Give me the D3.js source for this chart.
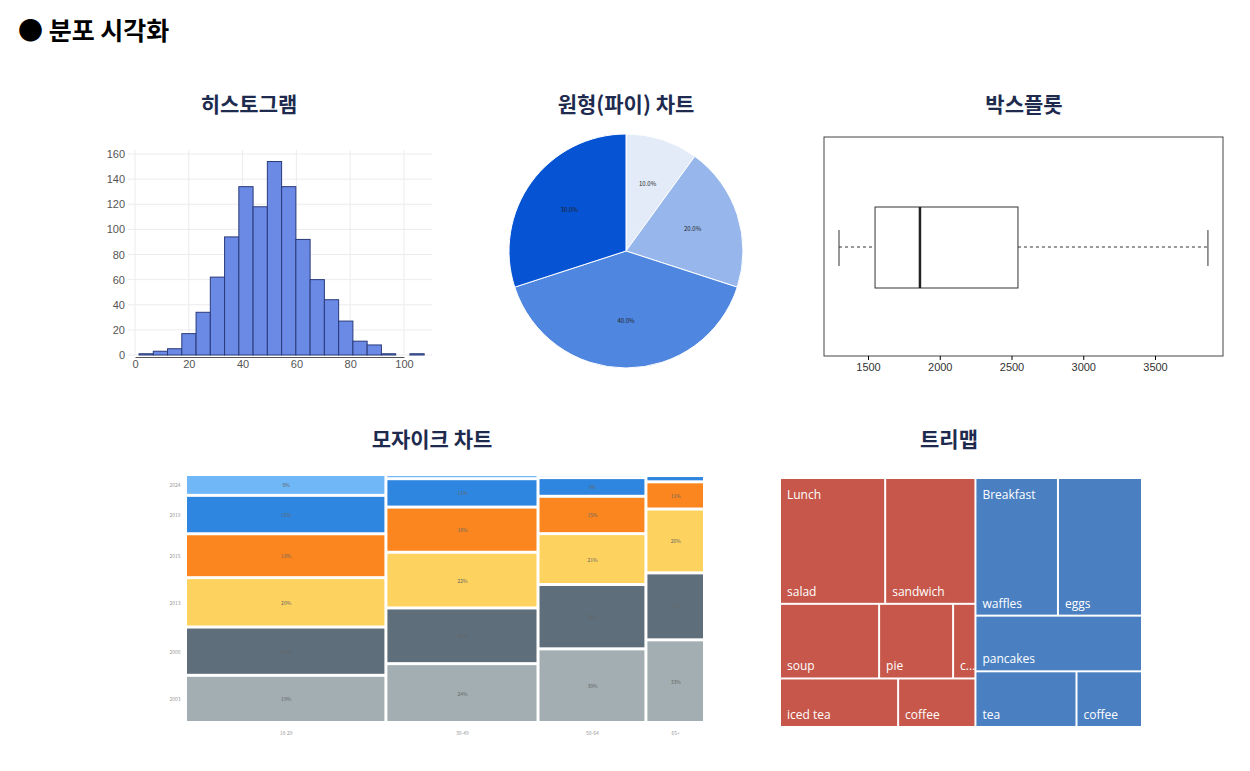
<!DOCTYPE html>
<html><head><meta charset="utf-8">
<script src="https://cdn.jsdelivr.net/npm/d3@7"></script>
<style>body{margin:0;background:#fff;font-family:"Noto Sans CJK KR","Noto Sans",sans-serif}</style>
</head><body>
<script>
// histogram
let histCounts = [1, 3, 5, 17, 34, 62, 94, 134, 118, 154, 134, 92, 60, 44, 27, 11, 8, 1, 0, 1]
let histStart = 1.5, histBin = 5.3
// pie
let pieLabels = ['10.0%', '20.0%', '40.0%', '30.0%']
let pieValues = [10, 20, 40, 30]
let pieColors = ['#e3ebf9', '#97b7ec', '#4f86e0', '#0653d3']
// box plot
let boxStats = { min: 1298, q1: 1549, median: 1862, q3: 2545, max: 3869 }
let boxTicks = [1500, 2000, 2500, 3000, 3500]
// mosaic
let mosaicCols = ['18-29', '30-49', '50-64', '65+']
let mosaicWidths = [195, 148, 105, 57]
let mosaicRows = ['2003', '2008', '2013', '2015', '2019', '2024']
let mosaicColors = ['#a2aeb1', '#5e6e7a', '#fdd25f', '#fb861f', '#2f86e0', '#6fb7f6']
let mosaicValues = [
  [43, 44, 45, 40, 35, 19],
  [56, 53, 53, 43, 27, 4],
  [71, 62, 49, 36, 18, 3],
  [79, 64, 61, 26, 6, 1]
]
// treemap: each group split into rows
let lunchRows = [['salad', 'sandwich'], ['soup', 'pie', 'cake'], ['iced tea', 'coffee']]
let lunchValues = [[127, 109], [71, 53, 16], [55, 36]]
let breakfastRows = [['waffles', 'eggs'], ['pancakes'], ['tea', 'coffee']]
let breakfastValues = [[109, 111], [89], [54, 35]]

let svg = d3.select('body').append('svg').attr('width', 1250).attr('height', 771)
let titleColor = '#1e2b4f'

svg.append('text').attr('x', 18).attr('y', 40).attr('font-size', 25).attr('font-weight', 'bold').text('● 분포 시각화')

let title = (x, y, t) => svg.append('text').attr('x', x).attr('y', y).attr('text-anchor', 'middle')
  .attr('font-size', 21).attr('font-weight', 'bold').attr('fill', titleColor).text(t)
title(249, 112, '히스토그램')
title(626, 112, '원형(파이) 차트')
title(1024, 112, '박스플롯')
title(432, 447, '모자이크 차트')
title(949, 447, '트리맵')

// histogram
let hx = d3.scaleLinear().domain([0, 100]).range([135, 404])
let hy = d3.scaleLinear().domain([0, 160]).range([355, 154])
let hg = svg.append('g')
hg.selectAll('.gx').data(d3.range(0, 120, 20)).join('line').attr('x1', d => hx(d)).attr('x2', d => hx(d))
  .attr('y1', 150).attr('y2', 355).attr('stroke', '#ececec')
hg.selectAll('.gy').data(d3.range(0, 180, 20)).join('line').attr('x1', 128).attr('x2', 432)
  .attr('y1', d => hy(d)).attr('y2', d => hy(d)).attr('stroke', '#ececec')
hg.selectAll('rect').data(histCounts).join('rect')
  .attr('x', (d, i) => hx(histStart + i * histBin)).attr('width', hx(histBin) - hx(0))
  .attr('y', d => hy(d)).attr('height', d => hy(0) - hy(d))
  .attr('fill', '#6b8ae6').attr('stroke', '#2a3a7a').attr('stroke-width', 1)
hg.append('g').attr('transform', 'translate(0,357)')
  .call(d3.axisBottom(hx).tickValues(d3.range(0, 120, 20)).tickSize(0))
  .call(g => g.select('.domain').attr('stroke', '#555'))
  .selectAll('text').attr('font-size', 11).attr('fill', '#555')
hg.append('g').attr('transform', 'translate(128,0)')
  .call(d3.axisLeft(hy).tickValues(d3.range(0, 180, 20)).tickSize(0))
  .call(g => g.select('.domain').remove())
  .selectAll('text').attr('font-size', 11).attr('fill', '#555')

// pie
let pg = svg.append('g').attr('transform', 'translate(626,251)')
let arcs = d3.pie().sort(null)(pieValues)
let arc = d3.arc().innerRadius(0).outerRadius(117)
let labelArc = d3.arc().innerRadius(70).outerRadius(70)
pg.selectAll('path').data(arcs).join('path').attr('d', arc).attr('fill', (d, i) => pieColors[i])
  .attr('stroke', '#fff').attr('stroke-width', 1)
pg.selectAll('text').data(arcs).join('text').attr('transform', d => `translate(${labelArc.centroid(d)})`)
  .attr('text-anchor', 'middle').attr('dy', 2).attr('font-size', 6).attr('fill', '#222')
  .text((d, i) => pieLabels[i])

// box plot
let bx = d3.scaleLinear().domain([1500, 3500]).range([868, 1155])
let bg = svg.append('g')
bg.append('rect').attr('x', 824).attr('y', 137).attr('width', 399).attr('height', 219)
  .attr('fill', 'none').attr('stroke', '#444')
bg.append('line').attr('x1', bx(boxStats.min)).attr('x2', bx(boxStats.q1)).attr('y1', 247).attr('y2', 247)
  .attr('stroke', '#333').attr('stroke-dasharray', '3,3')
bg.append('line').attr('x1', bx(boxStats.q3)).attr('x2', bx(boxStats.max)).attr('y1', 247).attr('y2', 247)
  .attr('stroke', '#333').attr('stroke-dasharray', '3,3')
;[boxStats.min, boxStats.max].forEach(v => bg.append('line').attr('x1', bx(v)).attr('x2', bx(v))
  .attr('y1', 230).attr('y2', 266).attr('stroke', '#333'))
bg.append('rect').attr('x', bx(boxStats.q1)).attr('width', bx(boxStats.q3) - bx(boxStats.q1))
  .attr('y', 207).attr('height', 81).attr('fill', '#fff').attr('stroke', '#333')
bg.append('line').attr('x1', bx(boxStats.median)).attr('x2', bx(boxStats.median)).attr('y1', 207).attr('y2', 288)
  .attr('stroke', '#222').attr('stroke-width', 2.5)
bg.append('g').attr('transform', 'translate(0,356)')
  .call(d3.axisBottom(bx).tickValues(boxTicks).tickFormat(d3.format('d')).tickSize(4))
  .call(g => g.select('.domain').remove())
  .selectAll('text').attr('font-size', 11).attr('fill', '#333')

// mosaic
let mx = d3.scaleLinear().domain([0, d3.sum(mosaicWidths)]).range([186, 705])
let mg = svg.append('g')
let cum = 0
mosaicValues.forEach((col, ci) => {
  let x0 = mx(cum), x1 = mx(cum + mosaicWidths[ci])
  cum += mosaicWidths[ci]
  let my = d3.scaleLinear().domain([0, d3.sum(col)]).range([723, 475])
  let acc = 0
  col.forEach((v, ri) => {
    let y0 = my(acc), y1 = my(acc + v)
    acc += v
    mg.append('rect').attr('x', x0 + 1).attr('width', x1 - x0 - 3).attr('y', y1 + 1).attr('height', Math.max(0, y0 - y1 - 3))
      .attr('fill', mosaicColors[ri])
    if (y0 - y1 > 8) {
      mg.append('text').attr('x', (x0 + x1) / 2).attr('y', (y0 + y1) / 2 + 2).attr('text-anchor', 'middle')
        .attr('font-size', 5).attr('fill', '#666').text(Math.round(v / d3.sum(col) * 100) + '%')
    }
  })
  mg.append('text').attr('x', (x0 + x1) / 2).attr('y', 735).attr('text-anchor', 'middle')
    .attr('font-size', 5).attr('fill', '#999').text(mosaicCols[ci])
})
let firstY = d3.scaleLinear().domain([0, d3.sum(mosaicValues[0])]).range([723, 475])
let acc0 = 0
mosaicValues[0].forEach((v, ri) => {
  mg.append('text').attr('x', 175).attr('y', firstY(acc0 + v / 2) + 2).attr('text-anchor', 'middle')
    .attr('font-size', 5).attr('fill', '#999').text(mosaicRows[ri])
  acc0 += v
})

// treemap
let makeGroup = (name, rows, vals) => ({ name, children: rows.map((r, ri) =>
  ({ name: name + ri, children: r.map((n, i) => ({ name: n, value: vals[ri][i] })) })) })
let treeData = { name: 'root', children: [
  makeGroup('Lunch', lunchRows, lunchValues),
  makeGroup('Breakfast', breakfastRows, breakfastValues)
] }
let root = d3.hierarchy(treeData).sum(d => d.value || 0)
d3.treemap().tile(d3.treemapSliceDice).size([362, 249]).padding(0)(root)
let tg = svg.append('g').attr('transform', 'translate(781,479)')
let groupColor = { Lunch: '#c6574a', Breakfast: '#4a80c2' }
root.leaves().forEach(l => {
  let w = l.x1 - l.x0, h = l.y1 - l.y0
  tg.append('rect').attr('x', l.x0).attr('y', l.y0).attr('width', w - 2).attr('height', h - 2)
    .attr('fill', groupColor[l.parent.parent.data.name])
  let label = l.data.name
  if (w < 30) label = label[0] + '...'
  tg.append('text').attr('x', l.x0 + 6).attr('y', l.y1 - 9).attr('font-size', 12)
    .attr('fill', '#fff').attr('font-family', 'Open Sans, sans-serif').text(label)
})
root.children.forEach(g => {
  tg.append('text').attr('x', g.x0 + 6).attr('y', g.y0 + 20).attr('font-size', 12)
    .attr('fill', '#fff').attr('font-family', 'Open Sans, sans-serif').text(g.data.name)
})
</script>
</body></html>
